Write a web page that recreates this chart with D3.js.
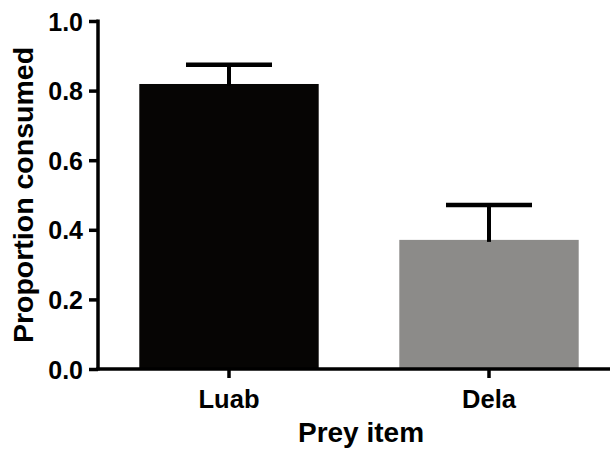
<!DOCTYPE html>
<html><head><meta charset="utf-8">
<script src="https://cdn.jsdelivr.net/npm/d3@7"></script>
<style>body{margin:0;background:#fff}svg{display:block}text{font-family:"Liberation Sans",Arial,sans-serif;font-weight:bold;fill:#000}</style>
</head><body><svg id="c" width="610" height="450"></svg>
<script>
const categories = ["Luab", "Dela"];
const means = [0.819, 0.371];
const errors = [0.055, 0.100];
const colors = ["#060504", "#8c8b89"];
const yTicks = [0.0, 0.2, 0.4, 0.6, 0.8, 1.0];

const svg = d3.select("#c");
const x = d3.scaleBand().domain(categories).range([99, 619]).paddingInner(0.31).paddingOuter(0.155);
const y = d3.scaleLinear().domain([0, 1]).range([369, 21]);

// bars
svg.selectAll("rect.bar").data(categories).join("rect")
  .attr("x", d => x(d)).attr("width", x.bandwidth())
  .attr("y", (d,i) => y(means[i])).attr("height", (d,i) => y(0) - y(means[i]))
  .attr("fill", (d,i) => colors[i]);

// error bars (upper only)
const capW = 86;
svg.selectAll("line.stem").data(categories).join("line")
  .attr("x1", d => x(d) + x.bandwidth()/2).attr("x2", d => x(d) + x.bandwidth()/2)
  .attr("y1", (d,i) => y(means[i]) + 2).attr("y2", (d,i) => y(means[i] + errors[i]))
  .attr("stroke", "#000").attr("stroke-width", 4);
svg.selectAll("line.cap").data(categories).join("line")
  .attr("x1", d => x(d) + x.bandwidth()/2 - capW/2).attr("x2", d => x(d) + x.bandwidth()/2 + capW/2)
  .attr("y1", (d,i) => y(means[i] + errors[i])).attr("y2", (d,i) => y(means[i] + errors[i]))
  .attr("stroke", "#000").attr("stroke-width", 4.5);

// y axis
const yAxis = d3.axisLeft(y).tickValues(yTicks).tickFormat(d3.format(".1f")).tickSize(9).tickPadding(6).tickSizeOuter(0);
const gy = svg.append("g").attr("transform", "translate(98,0)").call(yAxis);
gy.select(".domain").attr("stroke", "#000").attr("stroke-width", 3.5).attr("d", `M0,${y(1)-1.5}V${y(0)+1.5}`);
gy.selectAll(".tick line").attr("stroke", "#000").attr("stroke-width", 3.5);
gy.selectAll(".tick text").style("font-size", "25px").attr("dy", "0.36em").attr("fill", "#000");

// x axis
const xAxis = d3.axisBottom(x).tickSize(9).tickPadding(6).tickSizeOuter(0);
const gx = svg.append("g").attr("transform", "translate(0,369)").call(xAxis);
gx.select(".domain").attr("stroke", "#000").attr("stroke-width", 3.5).attr("d", "M96.25,0H610");
gx.selectAll(".tick line").attr("stroke", "#000").attr("stroke-width", 3.5);
gx.selectAll(".tick text").style("font-size", "25.5px").attr("dy", "0.93em").attr("fill", "#000");

// titles
svg.append("text").attr("x", 361).attr("y", 442).attr("text-anchor", "middle")
  .style("font-size", "28px").text("Prey item");
svg.append("text").attr("transform", "translate(33,195) rotate(-90)").attr("text-anchor", "middle")
  .style("font-size", "28.5px").text("Proportion consumed");
</script></body></html>
